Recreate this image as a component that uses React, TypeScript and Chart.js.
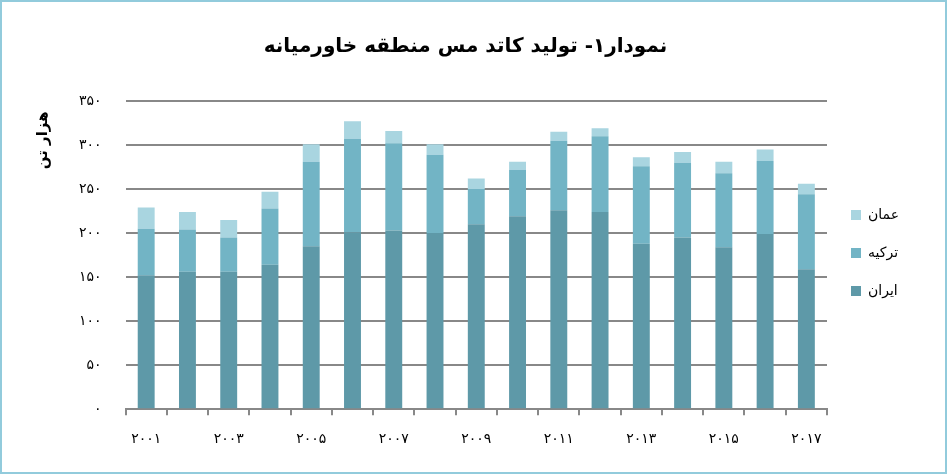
import React, { useEffect, useRef } from "react";
import { Chart, registerables } from "chart.js";

Chart.register(...registerables);

const categories = ["۲۰۰۱","۲۰۰۲","۲۰۰۳","۲۰۰۴","۲۰۰۵","۲۰۰۶","۲۰۰۷","۲۰۰۸","۲۰۰۹","۲۰۱۰","۲۰۱۱","۲۰۱۲","۲۰۱۳","۲۰۱۴","۲۰۱۵","۲۰۱۶","۲۰۱۷"];
const iran = [152,156,156,164,185,201,203,200,210,219,226,224,188,195,184,199,159];
const turkey = [53,48,39,64,96,106,99,89,40,53,79,86,88,85,84,83,85];
const oman = [24,20,20,19,20,20,14,12,12,9,10,9,10,12,13,13,12];
const seriesNames = ["ایران","ترکیه","عمان"];
const titleText = "نمودار۱- تولید کاتد مس منطقه خاورمیانه";
const yTitle = "هزار تن";

const fa = (n: number | string) => String(n).replace(/[0-9]/g, (d) => "۰۱۲۳۴۵۶۷۸۹"[+d]);

export default function App() {
  const ref = useRef<HTMLCanvasElement>(null);
  useEffect(() => {
    document.body.style.margin = "0";
    const font = "'DejaVu Sans', sans-serif";
    const chart = new Chart(ref.current!, {
      type: "bar",
      data: {
        labels: categories,
        datasets: [
          { label: seriesNames[0], data: iran, backgroundColor: "#5e99a8", barPercentage: 0.41, categoryPercentage: 1 },
          { label: seriesNames[1], data: turkey, backgroundColor: "#72b4c5", barPercentage: 0.41, categoryPercentage: 1 },
          { label: seriesNames[2], data: oman, backgroundColor: "#a9d5e0", barPercentage: 0.41, categoryPercentage: 1 },
        ],
      },
      options: {
        animation: false,
        responsive: false,
        maintainAspectRatio: false,
        layout: { padding: { left: 20, right: 36, top: 0, bottom: 8 } },
        plugins: {
          title: {
            display: true,
            text: titleText,
            color: "#000",
            font: { family: font, size: 20, weight: "bold" },
            padding: { top: 33, bottom: 42 },
          },
          legend: {
            position: "right",
            fullSize: true,
            reverse: true,
            title: {
              display: true,
              text: " ",
              font: { family: font, size: 10 },
              padding: { top: 0, bottom: 28, left: 0, right: 0 },
            },
            labels: {
              color: "#000",
              font: { family: font, size: 14 },
              boxWidth: 10,
              boxHeight: 10,
              padding: 24,
            },
          },
          tooltip: { enabled: false },
        },
        scales: {
          x: {
            stacked: true,
            grid: { offset: true, drawOnChartArea: false, drawTicks: true, tickLength: 6, color: "#888", lineWidth: 2 },
            border: { display: true, color: "#888", width: 2 },
            ticks: {
              color: "#000",
              font: { family: font, size: 14 },
              padding: 16,
              autoSkip: false,
              maxRotation: 0,
              callback: (_v: any, i: number) => (i % 2 === 0 ? categories[i] : ""),
            },
          },
          y: {
            stacked: true,
            min: 0,
            max: 350,
            ticks: {
              stepSize: 50,
              color: "#000",
              font: { family: font, size: 14 },
              padding: 24,
              callback: (v: any) => fa(v),
            },
            grid: { color: "#888", lineWidth: 2, drawTicks: false },
            border: { display: false },
            title: {
              display: true,
              text: yTitle + "\u00A0\u00A0",
              align: "end",
              color: "#000",
              font: { family: font, size: 15, weight: "bold" },
              padding: { top: 12, bottom: 3 },
            },
          },
        },
      },
    });
    return () => chart.destroy();
  }, []);
  return (
    <div style={{ position: "fixed", left: 0, top: 0, width: 947, height: 474, boxSizing: "border-box", border: "2px solid #92cbdc", background: "#fff" }}>
      <canvas ref={ref} width={943} height={470} style={{ display: "block" }} />
    </div>
  );
}
